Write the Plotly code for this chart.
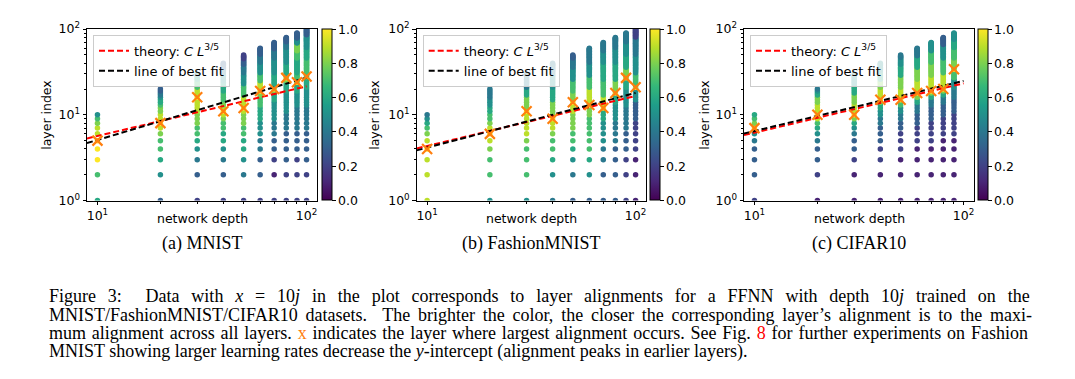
import plotly.graph_objects as go
from plotly.subplots import make_subplots

W, H = 1075, 379

depths = [10, 20, 30, 40, 50, 60, 70, 80, 90, 100]
cifar_depths = [10, 20, 30, 40, 50, 60, 70, 80, 90]

# alignment colour of each layer, from layer 1 upward, as runs of (tenths, count)
mnist_runs = [
    [(6, 1), (7, 1), (10, 3), (9, 2), (8, 1), (7, 1), (5, 1)],
    [(3, 1), (5, 1), (6, 1), (7, 2), (8, 1), (9, 1), (10, 1), (9, 2), (8, 2), (7, 1), (6, 2), (5, 1), (4, 2), (3, 2)],
    [(2, 1), (3, 1), (4, 1), (5, 1), (6, 1), (7, 2), (8, 3), (9, 5), (10, 1), (9, 4), (7, 5), (6, 3), (5, 2)],
    [(2, 1), (3, 1), (4, 1), (5, 1), (6, 2), (7, 2), (8, 1), (9, 1), (10, 1), (9, 1), (8, 2), (7, 4), (6, 6), (5, 6), (4, 5), (3, 5)],
    [(2, 1), (4, 1), (5, 1), (6, 2), (7, 2), (8, 3), (9, 1), (10, 1), (9, 4), (7, 6), (5, 8), (4, 8), (3, 6), (2, 6)],
    [(2, 1), (3, 2), (4, 2), (5, 3), (6, 4), (7, 4), (8, 2), (10, 1), (9, 5), (7, 6), (5, 10), (4, 10), (3, 10)],
    [(2, 1), (1, 1), (2, 1), (3, 2), (4, 3), (5, 6), (6, 4), (8, 1), (10, 1), (8, 1), (6, 9), (5, 15), (4, 13), (3, 12)],
    [(2, 2), (3, 4), (4, 4), (5, 8), (6, 6), (8, 2), (10, 1), (8, 2), (6, 11), (5, 20), (4, 10), (3, 10)],
    [(2, 3), (3, 3), (4, 6), (5, 6), (6, 5), (10, 1), (7, 6), (6, 15), (7, 10), (8, 13), (5, 10), (3, 12)],
    [(2, 2), (3, 4), (4, 6), (5, 8), (6, 7), (10, 1), (7, 17), (6, 15), (5, 25), (3, 15)],
]
fashion_runs = [
    [(9, 3), (10, 1), (9, 1), (8, 1), (7, 1), (6, 1), (5, 1), (4, 1)],
    [(5, 1), (7, 2), (8, 1), (9, 1), (10, 1), (9, 1), (8, 1), (7, 2), (6, 2), (5, 3), (4, 5)],
    [(5, 1), (7, 3), (8, 1), (9, 5), (10, 1), (8, 5), (6, 4), (4, 10)],
    [(4, 1), (5, 1), (6, 1), (7, 2), (8, 1), (9, 2), (10, 1), (8, 5), (6, 6), (5, 10), (4, 10)],
    [(3, 1), (4, 1), (5, 1), (6, 1), (7, 2), (8, 4), (9, 3), (10, 1), (8, 4), (7, 7), (5, 10), (4, 10), (3, 5)],
    [(3, 1), (5, 1), (6, 1), (7, 6), (8, 3), (10, 1), (9, 7), (7, 8), (5, 12), (4, 20)],
    [(3, 2), (4, 2), (5, 4), (6, 3), (10, 1), (9, 4), (7, 9), (6, 15), (5, 15), (4, 15)],
    [(3, 4), (4, 4), (5, 5), (6, 4), (10, 1), (8, 7), (6, 15), (5, 20), (4, 20)],
    [(2, 3), (3, 3), (4, 6), (5, 8), (6, 6), (10, 1), (8, 8), (6, 15), (5, 20), (4, 20)],
    [(1, 3), (2, 5), (3, 6), (5, 6), (10, 1), (7, 9), (5, 20), (4, 30), (2, 20)],
]
cifar_runs = [
    [(2, 1), (3, 3), (4, 1), (5, 1), (10, 1), (8, 1), (7, 1), (6, 1)],
    [(1, 1), (2, 1), (3, 2), (4, 1), (5, 1), (6, 1), (7, 1), (9, 1), (10, 1), (9, 3), (8, 3), (6, 2), (5, 1), (4, 1)],
    [(1, 2), (2, 1), (3, 2), (4, 1), (5, 1), (6, 1), (8, 1), (10, 1), (9, 3), (8, 4), (6, 5), (5, 8)],
    [(1, 2), (2, 2), (3, 3), (4, 2), (5, 2), (6, 2), (8, 1), (10, 1), (9, 5), (8, 5), (6, 7), (5, 8)],
    [(1, 3), (2, 3), (3, 2), (4, 2), (5, 2), (7, 2), (10, 1), (9, 5), (8, 8), (6, 10), (5, 8), (4, 4)],
    [(1, 4), (2, 3), (3, 3), (4, 3), (6, 2), (8, 2), (10, 1), (9, 7), (8, 10), (6, 13), (4, 12)],
    [(1, 4), (2, 4), (3, 4), (4, 3), (6, 2), (8, 1), (10, 1), (9, 9), (8, 12), (7, 15), (5, 15)],
    [(1, 5), (2, 4), (3, 4), (4, 3), (6, 2), (8, 1), (10, 1), (9, 10), (7, 15), (5, 20), (3, 15)],
    [(1, 5), (2, 5), (3, 5), (4, 5), (5, 6), (7, 7), (10, 1), (8, 11), (7, 15), (6, 15), (5, 15)],
]

# layer with the largest alignment for each depth
mnist_peak = [5, 8, 16, 11, 12, 19, 20, 27, 24, 28]
fashion_peak = [4, 6, 11, 9, 14, 13, 12, 18, 27, 21]
cifar_peak = [7, 10, 10, 15, 15, 18, 19, 20, 34]

# straight lines in log-log: values at the left edge and at depth 100
line_x = [8.91, 100]
mnist_theory = [5.3, 21.5]
mnist_fit = [4.68, 27.2]
fashion_theory = [4.05, 16.6]
fashion_fit = [3.85, 18.0]
cifar_theory = [5.8, 23.3]
cifar_fit = [6.05, 24.9]

panel_names = ["(a) MNIST", "(b) FashionMNIST", "(c) CIFAR10"]

# panel geometry in pixels
ax_left = [87, 416.7, 744]
ax_right = [317, 646, 974]
ax_top, ax_bottom = 21, 200
cb_left = [322.3, 650, 978.3]
ylab_x = [47, 375, 705]

SANS = "DejaVu Sans"
SERIF = "Liberation Serif"
FS = 12.5


def expand(runs):
    vals = []
    for v, n in runs:
        vals += [v / 10] * n
    return vals


def note(x, y, text, font, **kw):
    fig.add_annotation(x=x / W, y=1 - y / H, xref="paper", yref="paper", showarrow=False,
                       text=text, font=font, **kw)


fig = make_subplots(rows=1, cols=3)

panels = [
    (depths, mnist_runs, mnist_peak, mnist_theory, mnist_fit),
    (depths, fashion_runs, fashion_peak, fashion_theory, fashion_fit),
    (cifar_depths, cifar_runs, cifar_peak, cifar_theory, cifar_fit),
]

sans = dict(family=SANS, size=FS, color="black")
serif = dict(family=SERIF, size=18, color="black")

for i, (ds, runs, peaks, theory, fit) in enumerate(panels):
    col = i + 1
    leg = "legend" if i == 0 else "legend%d" % col
    xs, ys, cs = [], [], []
    for d, r in zip(ds, runs):
        vals = expand(r)
        xs += [d] * len(vals)
        ys += list(range(1, len(vals) + 1))
        cs += vals
    fig.add_trace(go.Scatter(
        x=xs, y=ys, mode="markers", showlegend=False,
        marker=dict(
            size=5.5, color=cs, colorscale="Viridis", cmin=0, cmax=1,
            line=dict(width=0), showscale=True,
            colorbar=dict(
                x=cb_left[i] / W, xanchor="left", xpad=0,
                y=1 - (ax_top + ax_bottom) / 2 / H, yanchor="middle", ypad=0,
                len=(ax_bottom - ax_top) / H, lenmode="fraction",
                thickness=9.5, thicknessmode="pixels",
                outlinewidth=1, outlinecolor="black",
                ticks="outside", ticklen=3.5, tickcolor="black",
                tickvals=[0, 0.2, 0.4, 0.6, 0.8, 1.0],
                ticktext=["0.0", "0.2", "0.4", "0.6", "0.8", "1.0"],
                tickfont=sans,
            ),
        ),
    ), row=1, col=col)
    fig.add_trace(go.Scatter(
        x=line_x, y=theory, mode="lines", legend=leg,
        name="theory: <i>C L</i><sup>3/5</sup>",
        line=dict(color="red", width=2, dash="6px,3px"),
    ), row=1, col=col)
    fig.add_trace(go.Scatter(
        x=line_x, y=fit, mode="lines", legend=leg,
        name="line of best fit",
        line=dict(color="black", width=2, dash="6px,3px"),
    ), row=1, col=col)
    fig.add_trace(go.Scatter(
        x=ds, y=peaks, mode="markers", showlegend=False,
        marker=dict(symbol="x-thin", size=10, color="#ff7f0e",
                    line=dict(width=2.2, color="#ff7f0e")),
    ), row=1, col=col)

    ax = dict(
        type="log", showline=True, mirror=True, linecolor="black", linewidth=1,
        ticks="outside", ticklen=3.5, tickcolor="black", showgrid=False, zeroline=False,
        tickfont=sans,
    )
    fig.update_xaxes(
        domain=[ax_left[i] / W, ax_right[i] / W], range=[0.95, 2.05],
        tickvals=[10, 100], ticktext=["10<sup>1</sup>", "10<sup>2</sup>"],
        minor=dict(tickvals=[20, 30, 40, 50, 60, 70, 80, 90], ticks="outside",
                   ticklen=2, tickcolor="black", showgrid=False),
        row=1, col=col, **ax)
    fig.update_yaxes(
        domain=[1 - ax_bottom / H, 1 - ax_top / H], range=[0, 2],
        tickvals=[1, 10, 100], ticktext=["10<sup>0</sup>", "10<sup>1</sup>", "10<sup>2</sup>"],
        minor=dict(tickvals=[2, 3, 4, 5, 6, 7, 8, 9, 20, 30, 40, 50, 60, 70, 80, 90],
                   ticks="outside", ticklen=2, tickcolor="black", showgrid=False),
        row=1, col=col, **ax)

    fig.update_layout({leg: dict(
        x=(ax_left[i] + 6) / W, y=1 - (ax_top + 6) / H, xanchor="left", yanchor="top",
        bgcolor="rgba(255,255,255,0.8)", bordercolor="#cccccc", borderwidth=1,
        font=dict(family=SANS, size=13, color="black"), itemwidth=30,
    )})

    cx = (ax_left[i] + ax_right[i]) / 2
    note(cx, 219, "network depth", sans, xanchor="center", yanchor="middle")
    note(ylab_x[i], 110.5, "layer index", sans, xanchor="center", yanchor="middle", textangle=-90)
    note(cx, 245, panel_names[i], serif, xanchor="center", yanchor="middle")

caption = [
    ("Figure 3:  Data with <i>x</i> = 10<i>j</i> in the plot corresponds to layer alignments "
     "for a FFNN with depth 10<i>j</i> trained on the", 7.35),
    ("MNIST/FashionMNIST/CIFAR10 datasets.  The brighter the color, the closer the corresponding "
     "layer\u2019s alignment is to the maxi-", 3.3),
    ("mum alignment across all layers. <span style='color:#ff7f0e'>x</span> indicates the layer where "
     "largest alignment occurs. See Fig. <span style='color:red'>8</span> for further experiments on Fashion", 1.35),
    ("MNIST showing larger learning rates decrease the <i>y</i>-intercept (alignment peaks in earlier layers).", 0),
]
caption_y = [300, 319.5, 338.5, 358]
for (txt, ws), cy in zip(caption, caption_y):
    note(47, cy, "<span style='word-spacing:%spx'>%s</span>" % (ws, txt), serif,
         xanchor="left", yanchor="middle", align="left")

fig.update_layout(
    width=W, height=H, margin=dict(l=0, r=0, t=0, b=0),
    plot_bgcolor="white", paper_bgcolor="white",
)

fig.write_html("out.html", config={"displayModeBar": False},
               post_script="document.body.style.margin='0px';")
